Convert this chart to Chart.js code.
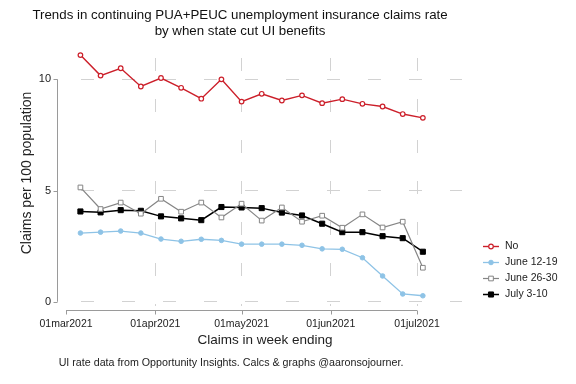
<!DOCTYPE html>
<html>
<head>
<meta charset="utf-8">
<script src="https://cdn.jsdelivr.net/npm/chart.js@4/dist/chart.umd.min.js"></script>
<style>
  html, body { margin: 0; padding: 0; background: #fff; }
</style>
</head>
<body>
<canvas id="claims" width="576" height="384"></canvas>
<script>
const weekEnding = ['2021-03-06', '2021-03-13', '2021-03-20', '2021-03-27', '2021-04-03', '2021-04-10',
    '2021-04-17', '2021-04-24', '2021-05-01', '2021-05-08', '2021-05-15', '2021-05-22',
    '2021-05-29', '2021-06-05', '2021-06-12', '2021-06-19', '2021-06-26', '2021-07-03'];

const cutNo = [11.09, 10.17, 10.5, 9.68, 10.06, 9.62, 9.13, 10.0, 9.0, 9.35, 9.05, 9.28, 8.93, 9.11, 8.9, 8.78, 8.44, 8.27];
const cutJune12 = [3.09, 3.13, 3.18, 3.09, 2.82, 2.72, 2.81, 2.76, 2.59, 2.59, 2.59, 2.54, 2.38, 2.36, 1.98, 1.16, 0.35, 0.27];
const cutJune26 = [5.14, 4.17, 4.46, 3.96, 4.63, 4.05, 4.46, 3.79, 4.41, 3.65, 4.24, 3.6, 3.87, 3.33, 3.93, 3.34, 3.6, 1.53];
const cutJuly3 = [4.06, 4.02, 4.12, 4.09, 3.84, 3.75, 3.67, 4.26, 4.24, 4.21, 4.01, 3.88, 3.51, 3.13, 3.13, 2.95, 2.86, 2.25];

const xTickDays = [0, 31, 61, 92, 122];
const xTickLabels = ['01mar2021', '01apr2021', '01may2021', '01jun2021', '01jul2021'];
const yTicks = [0, 5, 10];

// days since 01mar2021
const start = Date.UTC(2021, 2, 1);
function dayOf(s) {
    const p = s.split('-');
    return (Date.UTC(+p[0], +p[1] - 1, +p[2]) - start) / 86400000;
}
function pts(vals) {
    return vals.map((v, i) => ({ x: dayOf(weekEnding[i]), y: v }));
}

const FONT = '"Liberation Sans", Arial, Helvetica, sans-serif';
const gridColor = '#d2d2d2';
const axisColor = '#9a9a9a';

const stataBits = {
    id: 'stataBits',
    afterDraw(chart) {
        const ctx = chart.ctx;
        const xs = chart.scales.x;
        const ys = chart.scales.y;
        ctx.save();

        // y axis
        ctx.strokeStyle = axisColor;
        ctx.lineWidth = 1;
        ctx.beginPath();
        ctx.moveTo(57.5, ys.getPixelForValue(yTicks[yTicks.length - 1]));
        ctx.lineTo(57.5, ys.getPixelForValue(yTicks[0]));
        yTicks.forEach(t => {
            const y = Math.round(ys.getPixelForValue(t)) + 0.5;
            ctx.moveTo(53.5, y);
            ctx.lineTo(57.5, y);
        });
        ctx.stroke();

        ctx.fillStyle = '#222';
        ctx.font = '11px ' + FONT;
        ctx.textAlign = 'right';
        ctx.textBaseline = 'middle';
        yTicks.forEach(t => ctx.fillText(String(t), 51, ys.getPixelForValue(t)));

        // x axis
        ctx.beginPath();
        ctx.moveTo(xs.getPixelForValue(xTickDays[0]), 310.5);
        ctx.lineTo(xs.getPixelForValue(xTickDays[xTickDays.length - 1]), 310.5);
        xTickDays.forEach(d => {
            const x = Math.round(xs.getPixelForValue(d)) + 0.5;
            ctx.moveTo(x, 310.5);
            ctx.lineTo(x, 314.5);
        });
        ctx.stroke();

        ctx.font = '10.5px ' + FONT;
        ctx.textAlign = 'center';
        ctx.textBaseline = 'alphabetic';
        xTickDays.forEach((d, i) => ctx.fillText(xTickLabels[i], xs.getPixelForValue(d), 327));

        // axis titles
        ctx.font = '13.5px ' + FONT;
        ctx.fillText('Claims in week ending', 265, 344);
        ctx.save();
        ctx.translate(30.5, 173);
        ctx.rotate(-Math.PI / 2);
        ctx.font = '14px ' + FONT;
        ctx.fillText('Claims per 100 population', 0, 0);
        ctx.restore();

        // title
        ctx.font = '13.3px ' + FONT;
        ctx.fillStyle = '#111';
        ctx.fillText('Trends in continuing PUA+PEUC unemployment insurance claims rate', 240, 19);
        ctx.fillText('by when state cut UI benefits', 240, 34.5);

        // note
        ctx.font = '10.7px ' + FONT;
        ctx.fillStyle = '#222';
        ctx.fillText('UI rate data from Opportunity Insights. Calcs & graphs @aaronsojourner.', 231, 366);

        // legend
        ctx.textAlign = 'left';
        ctx.textBaseline = 'middle';
        chart.data.datasets.forEach((ds, i) => {
            const y = 246.5 + 16 * i;
            ctx.strokeStyle = ds.borderColor;
            ctx.lineWidth = ds.borderWidth;
            ctx.beginPath();
            ctx.moveTo(483, y);
            ctx.lineTo(499, y);
            ctx.stroke();
            ctx.fillStyle = ds.pointBackgroundColor;
            ctx.strokeStyle = ds.pointBorderColor;
            ctx.lineWidth = ds.pointBorderWidth;
            ctx.beginPath();
            if (ds.pointStyle === 'rect') {
                const h = ds.pointRadius * Math.SQRT1_2;
                ctx.rect(491 - h, y - h, 2 * h, 2 * h);
            } else {
                ctx.arc(491, y, ds.pointRadius, 0, Math.PI * 2);
            }
            ctx.fill();
            ctx.stroke();
            ctx.fillStyle = '#222';
            ctx.font = '10.5px ' + FONT;
            ctx.fillText(ds.label, 505, y);
        });

        ctx.restore();
    }
};

const chart = new Chart(document.getElementById('claims').getContext('2d'), {
    type: 'line',
    data: {
        datasets: [
            {
                label: 'No',
                data: pts(cutNo),
                borderColor: '#cc1f2a',
                borderWidth: 1.4,
                pointStyle: 'circle',
                pointRadius: 2.3,
                pointBorderWidth: 1.2,
                pointBorderColor: '#cc1f2a',
                pointBackgroundColor: '#ffffff'
            },
            {
                label: 'June 12-19',
                data: pts(cutJune12),
                borderColor: '#8ec3e6',
                borderWidth: 1.3,
                pointStyle: 'circle',
                pointRadius: 2.3,
                pointBorderWidth: 1,
                pointBorderColor: '#8ec3e6',
                pointBackgroundColor: '#8ec3e6'
            },
            {
                label: 'June 26-30',
                data: pts(cutJune26),
                borderColor: '#858585',
                borderWidth: 1.2,
                pointStyle: 'rect',
                pointRadius: 3.3,
                pointBorderWidth: 1,
                pointBorderColor: '#858585',
                pointBackgroundColor: '#ffffff'
            },
            {
                label: 'July 3-10',
                data: pts(cutJuly3),
                borderColor: '#000000',
                borderWidth: 1.5,
                pointStyle: 'rect',
                pointRadius: 3.6,
                pointBorderWidth: 1,
                pointBorderColor: '#000000',
                pointBackgroundColor: '#000000'
            }
        ]
    },
    options: {
        responsive: false,
        animation: false,
        layout: {
            padding: { left: 62, right: 114, top: 50, bottom: 78 }
        },
        plugins: {
            legend: { display: false },
            tooltip: { enabled: false }
        },
        scales: {
            x: {
                type: 'linear',
                min: -1.4,
                max: 137.6,
                afterBuildTicks: (s) => { s.ticks = xTickDays.slice(1).map(v => ({ value: v })); },
                afterFit: (s) => { s.height = 0; },
                ticks: { display: false },
                border: { display: false, dash: [13, 28], dashOffset: 33 },
                grid: {
                    drawTicks: false,
                    color: gridColor,
                    lineWidth: 1
                }
            },
            y: {
                min: -0.19,
                max: 11.32,
                afterBuildTicks: (s) => { s.ticks = yTicks.map(v => ({ value: v })); },
                afterFit: (s) => { s.width = 0; },
                ticks: { display: false },
                border: { display: false, dash: [13, 28], dashOffset: 22 },
                grid: {
                    drawTicks: false,
                    color: gridColor,
                    lineWidth: 1
                }
            }
        }
    },
    plugins: [stataBits]
});
</script>
</body>
</html>
